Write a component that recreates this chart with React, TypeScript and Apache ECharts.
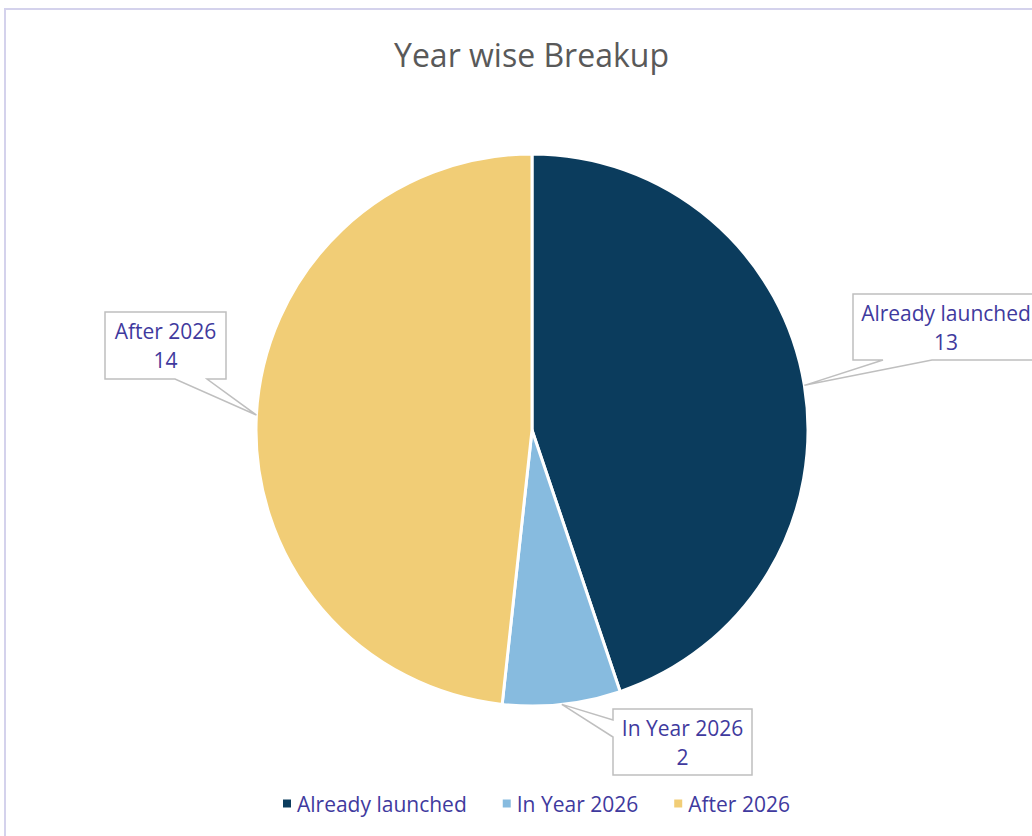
import React, { useEffect, useRef } from "react";
import * as echarts from "echarts";

const categories = ["Already launched", "In Year 2026", "After 2026"];
const values = [13, 2, 14];
const colors = ["#0B3C5D", "#87BBDF", "#F1CD76"];

// callout boxes: [left, top, width, height], wedge edge and base offsets along that edge
const calloutBoxes: [number, number, number, number][] = [
  [853, 294, 186, 66],
  [613, 709, 139, 66],
  [105, 312, 121, 67],
];
const calloutEdges = ["bottom", "left", "bottom"];
const calloutWedges: [number, number][] = [
  [30, 79],
  [11, 28],
  [70, 102],
];

const FONT = "'Open Sans', 'Noto Sans', sans-serif";
const TEXT_COLOR = "#3F3A9E";
const CENTER: [number, number] = [532, 430];
const RADIUS = 276;

export default function App() {
  const ref = useRef<HTMLDivElement>(null);
  useEffect(() => {
    if (!ref.current) return;
    const chart = echarts.init(ref.current, null, { renderer: "svg" });

    const total = values.reduce((a, b) => a + b, 0);
    let cum = 0;
    const callouts: any[] = [];
    values.forEach((v, i) => {
      const start = 90 - (360 * cum) / total;
      const mid = ((start - (180 * v) / total) * Math.PI) / 180;
      cum += v;
      const tip = [CENTER[0] + RADIUS * Math.cos(mid), CENTER[1] - RADIUS * Math.sin(mid)];
      const [l, t, w, h] = calloutBoxes[i];
      const [a, b] = calloutWedges[i];
      let pts: number[][];
      if (calloutEdges[i] === "bottom") {
        pts = [[l, t], [l + w, t], [l + w, t + h], [l + b, t + h], tip, [l + a, t + h], [l, t + h]];
      } else {
        pts = [[l, t], [l + w, t], [l + w, t + h], [l, t + h], [l, t + b], tip, [l, t + a]];
      }
      callouts.push({
        type: "polygon",
        z: 100,
        silent: true,
        shape: { points: pts },
        style: { fill: "#ffffff", stroke: "#BFBFBF", lineWidth: 1.5 },
      });
      callouts.push({
        type: "text",
        z: 101,
        silent: true,
        x: l + w / 2,
        y: t + h / 2,
        style: {
          text: categories[i] + "\n" + v,
          align: "center",
          verticalAlign: "middle",
          lineHeight: 29,
          fontFamily: FONT,
          fontSize: 21,
          fill: TEXT_COLOR,
        },
      });
    });

    chart.setOption({
      animation: false,
      backgroundColor: "#ffffff",
      title: {
        text: "Year wise Breakup",
        left: 389,
        top: 33,
        textStyle: { fontFamily: FONT, fontSize: 32, fontWeight: "normal", color: "#595959" },
      },
      legend: {
        bottom: 17,
        left: 276,
        icon: "rect",
        itemWidth: 10,
        itemHeight: 10,
        itemGap: 34,
        textStyle: { fontFamily: FONT, fontSize: 21, color: TEXT_COLOR },
        data: categories,
      },
      graphic: [
        {
          type: "rect",
          shape: { x: 5, y: 9, width: 1040, height: 840 },
          style: { fill: "none", stroke: "#D4D2EC", lineWidth: 2 },
          silent: true,
        },
        ...callouts,
      ],
      series: [
        {
          type: "pie",
          center: CENTER,
          radius: RADIUS,
          startAngle: 90,
          clockwise: true,
          itemStyle: { borderColor: "#ffffff", borderWidth: 3 },
          label: { show: false },
          labelLine: { show: false },
          data: categories.map((c, i) => ({
            name: c,
            value: values[i],
            itemStyle: { color: colors[i] },
          })),
        },
      ],
    });
    return () => chart.dispose();
  }, []);
  return (
    <div
      ref={ref}
      style={{ position: "fixed", left: 0, top: 0, width: 1032, height: 836 }}
    />
  );
}
